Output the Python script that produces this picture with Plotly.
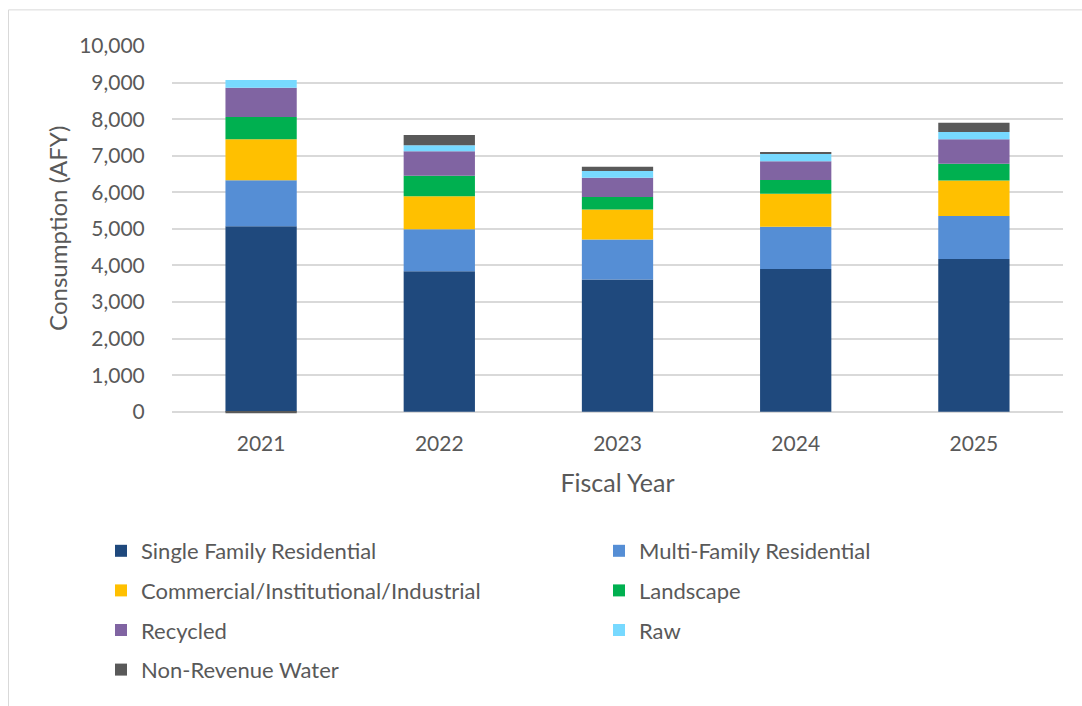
import plotly.graph_objects as go

# Annual consumption by customer class (acre-feet per year)
years = ["2021", "2022", "2023", "2024", "2025"]
single_family = [5075, 3840, 3620, 3905, 4180]
multi_family = [1255, 1150, 1090, 1155, 1170]
commercial = [1120, 900, 820, 900, 970]
landscape = [610, 560, 340, 380, 460]
recycled = [800, 670, 530, 510, 670]
raw = [210, 170, 180, 200, 200]
non_revenue = [-40, 280, 120, 30, 250]

y_ticks = [0, 1000, 2000, 3000, 4000, 5000, 6000, 7000, 8000, 9000, 10000]

series = [
    ("Single Family Residential", single_family, "#1F497D", "legend"),
    ("Multi-Family Residential", multi_family, "#558ED5", "legend2"),
    ("Commercial/Institutional/Industrial", commercial, "#FFC000", "legend"),
    ("Landscape", landscape, "#00B050", "legend2"),
    ("Recycled", recycled, "#8064A2", "legend"),
    ("Raw", raw, "#77D9FF", "legend2"),
    ("Non-Revenue Water", non_revenue, "#595959", "legend"),
]

FONT = "Lato"
TEXT = "#595959"
GRID = "#D9D9D9"

fig = go.Figure()
for i, (name, vals, color, leg) in enumerate(series):
    fig.add_trace(go.Bar(
        x=years, y=vals, name=name,
        marker=dict(color=color, line=dict(width=0)),
        legend=leg, legendgroup=f"g{i}",
    ))

W, H = 1082, 706
left, right, top, bottom = 172, 19, 45.7, 291.5
plot_w = W - left - right
plot_h = H - top - bottom

legend_common = dict(
    orientation="v",
    xref="container", yref="container",
    xanchor="left", yanchor="top",
    font=dict(family=FONT, size=22, color=TEXT),
    bgcolor="rgba(0,0,0,0)",
    tracegroupgap=8,
    itemclick=False, itemdoubleclick=False,
)

fig.update_layout(
    width=W, height=H,
    margin=dict(l=left, r=right, t=top, b=bottom, autoexpand=False),
    paper_bgcolor="white", plot_bgcolor="white",
    barmode="relative", bargap=0.6,
    font=dict(family=FONT, color=TEXT),
    legend=dict(legend_common, x=101 / W, y=1 - 530 / H),
    legend2=dict(legend_common, x=599 / W, y=1 - 530 / H),
    xaxis=dict(
        type="category",
        title=dict(text="Fiscal Year", font=dict(family=FONT, size=25, color=TEXT), standoff=20),
        tickfont=dict(family=FONT, size=21, color=TEXT),
        tickangle=0,
        ticks="outside", ticklen=11, tickcolor="rgba(0,0,0,0)",
        showline=False, showgrid=False,
    ),
    yaxis=dict(
        tickfont=dict(family=FONT, size=21, color=TEXT),
        range=[-60, 10000],
        tickvals=y_ticks, tickformat=",d",
        ticks="outside", ticklen=22, tickcolor="rgba(0,0,0,0)",
        showgrid=True, gridcolor=GRID, gridwidth=1.5,
        zeroline=True, zerolinecolor=GRID, zerolinewidth=1.5,
        showline=False,
    ),
    annotations=[dict(
        text="Consumption (AFY)", textangle=-90,
        xref="paper", yref="paper",
        x=(58 - left) / plot_w, y=(top + plot_h - 229) / plot_h,
        xanchor="center", yanchor="middle", showarrow=False,
        font=dict(family=FONT, size=24, color=TEXT),
    )],
)

# Outer chart-area frame
fig.add_shape(
    type="rect", xref="paper", yref="paper",
    x0=(8.5 - left) / plot_w, x1=(W + 20 - left) / plot_w,
    y0=-(H + 20 - top - plot_h) / plot_h, y1=(top + plot_h - 9.5) / plot_h,
    line=dict(color=GRID, width=1), fillcolor="rgba(0,0,0,0)", layer="below",
)

fig.write_html("out.html")
